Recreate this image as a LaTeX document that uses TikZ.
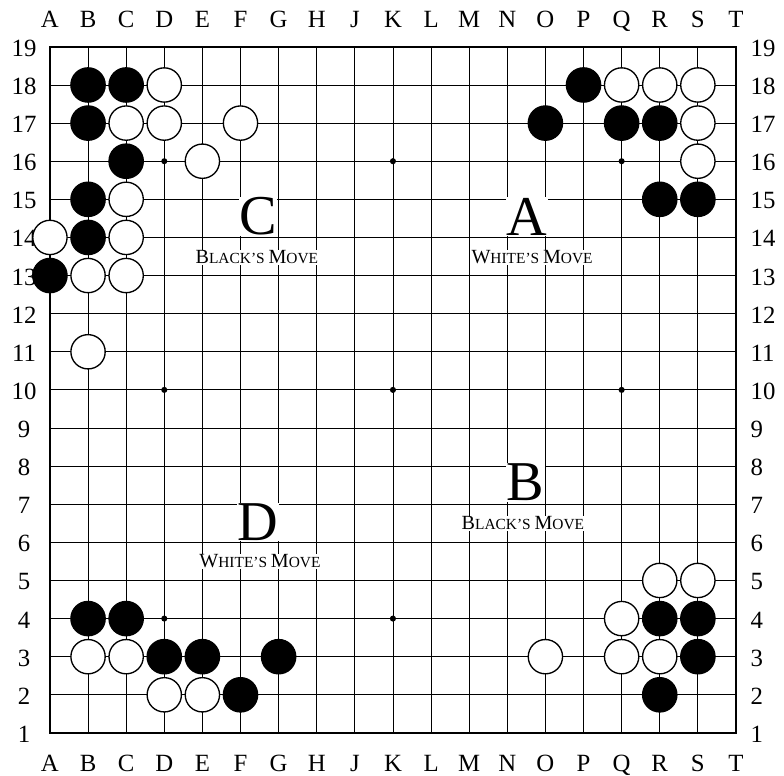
\documentclass[tikz,border=0pt]{standalone}
\usepackage{fontspec}
\setmainfont{Liberation Serif}

% larger first letter of a word in the move captions
\newcommand{\capletter}[1]{{\fontsize{15}{16}\selectfont #1}}

\begin{document}
\begin{tikzpicture}[
    grid/.style={line width=0.6pt},
    edge/.style={line width=1.6pt},
    bstone/.style={circle, draw, fill=black, line width=1pt, minimum size=0.9cm, inner sep=0pt},
    wstone/.style={circle, draw, fill=white, line width=1pt, minimum size=0.9cm, inner sep=0pt},
    hoshi/.style={circle, fill=black, minimum size=0.16cm, inner sep=0pt},
    coord/.style={font=\fontsize{18.5}{20}\selectfont, inner sep=0pt},
    problem/.style={fill=white, inner sep=0.5pt, font=\fontsize{42}{42}\selectfont},
    move/.style={fill=white, inner sep=0.5pt, font=\fontsize{11.5}{12}\selectfont}
]
    \useasboundingbox (-0.31,-0.13) rectangle (20.26,20.23);

    % Board lines
    \foreach \i in {2,...,18} {
        \draw[grid] (\i,1) -- (\i,19);
        \draw[grid] (1,\i) -- (19,\i);
    }
    \draw[edge] (1,1) rectangle (19,19);

    % Star points
    \foreach \x in {4,10,16} {
        \foreach \y in {4,10,16} {
            \node[hoshi] (hoshi\x\y) at (\x,\y) {};
        }
    }

    % Coordinates round the board
    \foreach \l [count=\i] in {A,B,C,D,E,F,G,H,J,K,L,M,N,O,P,Q,R,S,T} {
        \node[coord, anchor=base] (top\l) at (\i, 19.5) {\l};
        \node[coord, anchor=base] (bot\l) at (\i, 0.0) {\l};
    }
    \foreach \r in {1,...,19} {
        \node[coord, anchor=base] (left\r) at (0.32, \r-0.25) {\r};
        \node[coord, anchor=base west] (right\r) at (19.38, \r-0.25) {\r};
    }

    % Black stones
    \foreach \x/\y in {2/18, 3/18, 2/17, 3/16, 2/15, 2/14, 1/13,
                       15/18, 14/17, 16/17, 17/17, 17/15, 18/15,
                       2/4, 3/4, 4/3, 5/3, 7/3, 6/2,
                       17/4, 18/4, 18/3, 17/2} {
        \node[bstone] (b\x-\y) at (\x,\y) {};
    }

    % White stones
    \foreach \x/\y in {4/18, 3/17, 4/17, 6/17, 5/16, 3/15, 1/14, 3/14, 2/13, 3/13, 2/11,
                       16/18, 17/18, 18/18, 18/17, 18/16,
                       2/3, 3/3, 4/2, 5/2,
                       17/5, 18/5, 16/4, 14/3, 16/3, 17/3} {
        \node[wstone] (w\x-\y) at (\x,\y) {};
    }

    % Problem captions
    \node[problem] (probA) at (13.52, 14.55) {A};
    \node[move] (moveA) at (13.65, 13.48) {\capletter{W}HITE’S \capletter{M}OVE};
    \node[problem] (probB) at (13.47, 7.57) {B};
    \node[move] (moveB) at (13.41, 6.5) {\capletter{B}LACK’S \capletter{M}OVE};
    \node[problem] (probC) at (6.46, 14.55) {C};
    \node[move] (moveC) at (6.43, 13.48) {\capletter{B}LACK’S \capletter{M}OVE};
    \node[problem] (probD) at (6.46, 6.54) {D};
    \node[move] (moveD) at (6.51, 5.5) {\capletter{W}HITE’S \capletter{M}OVE};

\end{tikzpicture}
\end{document}
